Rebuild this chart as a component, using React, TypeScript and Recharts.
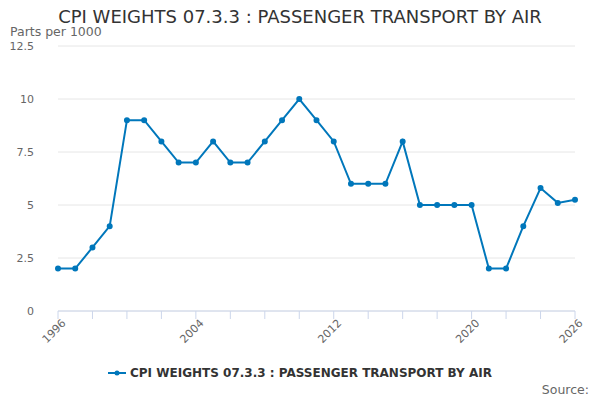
import React from "react";
import { LineChart, Line, XAxis, YAxis, CartesianGrid } from "recharts";

const years = [1996,1997,1998,1999,2000,2001,2002,2003,2004,2005,2006,2007,2008,2009,2010,2011,2012,2013,2014,2015,2016,2017,2018,2019,2020,2021,2022,2023,2024,2025,2026];
const values = [2,2,3,4,9,9,8,7,7,8,7,7,8,9,10,9,8,6,6,6,8,5,5,5,5,2,2,4,5.8,5.1,5.25];
const xTicks = [1996,1998,2000,2002,2004,2006,2008,2010,2012,2014,2016,2018,2020,2022,2024,2026];
const xLabels = [1996,2004,2012,2020,2026];
const yTicks = [0,2.5,5,7.5,10,12.5];
const seriesName = "CPI WEIGHTS 07.3.3 : PASSENGER TRANSPORT BY AIR";

const data = years.map((y, i) => ({ year: y, v: values[i] }));
const font = "'DejaVu Sans', sans-serif";

const XTick = (p: any) => {
  const { x, y, payload } = p;
  if (!xLabels.includes(payload.value)) return null;
  return (
    <text x={x} y={y} transform={`rotate(-45 ${x} ${y})`} textAnchor="end" dy={8} dx={4} fontSize={11} fill="#666" fontFamily={font}>
      {payload.value}
    </text>
  );
};

export default function App() {
  return (
    <div style={{ position: "fixed", left: 0, top: 0, width: 600, height: 400, background: "#fff", fontFamily: font }}>
      <div style={{ position: "absolute", top: 6, width: 600, textAlign: "center", fontSize: 18, color: "#333" }}>
        CPI WEIGHTS 07.3.3 : PASSENGER TRANSPORT BY AIR
      </div>
      <div style={{ position: "absolute", top: 24, left: 10, fontSize: 12.5, color: "#666" }}>Parts per 1000</div>
      <LineChart width={600} height={400} data={data} margin={{ top: 46, right: 25, left: 0, bottom: 59 }}>
        <CartesianGrid vertical={false} stroke="#e6e6e6" />
        <XAxis dataKey="year" type="number" domain={[1996, 2026]} ticks={xTicks} interval={0} tick={<XTick />} stroke="#ccd6eb" tickSize={8} height={30} />
        <YAxis ticks={yTicks} domain={[0, 12.5]} axisLine={false} tickLine={false} width={58} tickMargin={18} tick={{ fontSize: 11, fill: "#666", fontFamily: font }} tickFormatter={(v: number) => String(v)} />
        <Line dataKey="v" stroke="#0077bb" strokeWidth={2} dot={{ r: 2, fill: "#0077bb", stroke: "#0077bb" }} isAnimationActive={false} />
      </LineChart>
      <div style={{ position: "absolute", top: 366, width: 600, display: "flex", justifyContent: "center", alignItems: "center", fontSize: 12, fontWeight: "bold", color: "#333" }}>
        <svg width={18} height={10} style={{ marginRight: 4 }}>
          <line x1={0} y1={5} x2={18} y2={5} stroke="#0077bb" strokeWidth={2} />
          <circle cx={9} cy={5} r={2.5} fill="#0077bb" />
        </svg>
        {seriesName}
      </div>
      <div style={{ position: "absolute", top: 382, right: 11, fontSize: 12.5, color: "#666" }}>Source:</div>
    </div>
  );
}
